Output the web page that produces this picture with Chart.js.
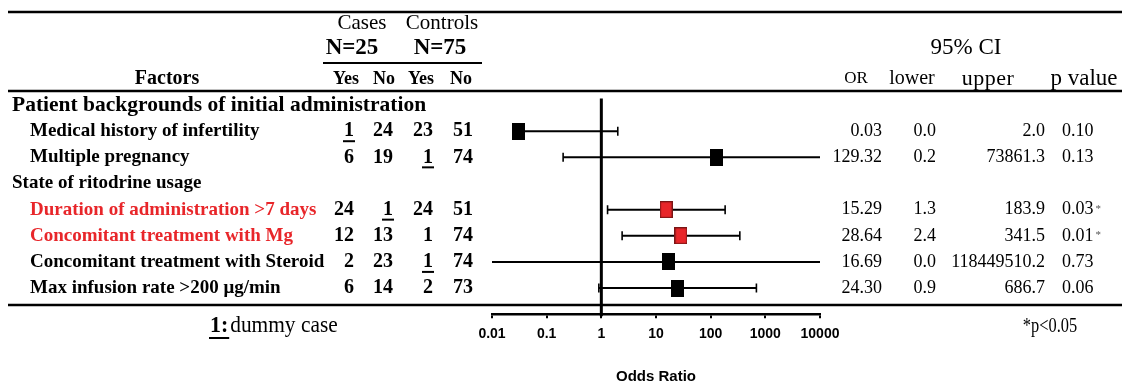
<!DOCTYPE html>
<html>
<head>
<meta charset="utf-8">
<script src="https://cdn.jsdelivr.net/npm/chart.js@4"></script>
<style>
  html, body { margin: 0; padding: 0; background: #fff; overflow: hidden; }
</style>
</head>
<body>
<canvas id="mycanvas" width="1122" height="400"></canvas>
<script>
var groups = ['Patient backgrounds of initial administration', 'State of ritodrine usage'];
var factors = [
    'Medical history of infertility',
    'Multiple pregnancy',
    'Duration of administration >7 days',
    'Concomitant treatment with Mg',
    'Concomitant treatment with Steroid',
    'Max infusion rate >200 \u03bcg/min'
];
var factorGroup = [0, 0, 1, 1, 1, 1];
var significant = [false, false, true, true, false, false];
var casesYes = [1, 6, 24, 12, 2, 6];
var casesNo = [24, 19, 1, 13, 23, 14];
var controlsYes = [23, 1, 24, 1, 1, 2];
var controlsNo = [51, 74, 51, 74, 74, 73];
// underlined dummy cells: [factor, column]
var dummyCells = [[0, 0], [1, 2], [2, 1], [4, 2]];
var oddsRatio = [0.03, 129.32, 15.29, 28.64, 16.69, 24.30];
var ciLower = [0.0, 0.2, 1.3, 2.4, 0.0, 0.9];
var ciUpper = [2.0, 73861.3, 183.9, 341.5, 118449510.2, 686.7];
var pValue = [0.10, 0.13, 0.03, 0.01, 0.73, 0.06];
var leftArm = [false, true, true, true, true, true];
var xTicks = [0.01, 0.1, 1, 10, 100, 1000, 10000];

var xMin = xTicks[0], xMax = xTicks[xTicks.length - 1];

// rows: group header, then its factors
var rowOf = [], groupRow = [], nRows = 0;
groups.forEach(function (g, gi) {
    groupRow.push(nRows++);
    factors.forEach(function (f, i) {
        if (factorGroup[i] === gi) rowOf[i] = nRows++;
    });
});

function box(fill, stroke) {
    var c = document.createElement('canvas');
    c.width = 13; c.height = 17;
    var x = c.getContext('2d');
    x.fillStyle = fill;
    x.fillRect(0, 0, 13, 17);
    x.strokeStyle = stroke;
    x.lineWidth = 1.2;
    x.strokeRect(0.6, 0.6, 11.8, 15.8);
    return c;
}
var blackBox = box('#000', '#000');
var redBox = box('#e8262a', '#7a1515');

var datasets = [];
datasets.push({
    type: 'scatter',
    data: factors.map(function (f, i) { return { x: oddsRatio[i], y: rowOf[i] }; }),
    pointStyle: significant.map(function (s) { return s ? redBox : blackBox; }),
    pointRadius: 8
});
var caps = [];
factors.forEach(function (f, i) {
    if (ciLower[i] >= xMin && leftArm[i]) caps.push({ x: ciLower[i], y: rowOf[i] });
    if (ciUpper[i] <= xMax) caps.push({ x: ciUpper[i], y: rowOf[i] });
});
datasets.push({
    type: 'scatter',
    data: caps,
    pointStyle: 'line',
    rotation: 90,
    pointRadius: 4.5,
    borderColor: '#000',
    pointBorderWidth: 1.6
});
factors.forEach(function (f, i) {
    var lo = leftArm[i] ? Math.max(ciLower[i], xMin) : oddsRatio[i];
    var hi = Math.min(ciUpper[i], xMax);
    datasets.push({
        type: 'line',
        data: [{ x: lo, y: rowOf[i] }, { x: hi, y: rowOf[i] }],
        borderColor: '#000',
        borderWidth: 2,
        pointRadius: 0
    });
});
datasets.push({
    type: 'line',
    data: [{ x: 1, y: -0.25 }, { x: 1, y: nRows + 0.08 }],
    borderColor: '#000',
    borderWidth: 3,
    pointRadius: 0,
    clip: false
});

function txt(ctx, s, x, y, font, align, color, sx, spacing) {
    sx = sx || 1;
    ctx.save();
    ctx.font = font;
    ctx.letterSpacing = spacing || '0px';
    ctx.textAlign = align || 'left';
    ctx.fillStyle = color || '#000';
    ctx.translate(x, y);
    ctx.scale(sx, 1);
    ctx.fillText(s, 0, 0);
    var w = ctx.measureText(s).width * sx;
    ctx.restore();
    return w;
}
function hline(ctx, x1, x2, y, w) {
    ctx.beginPath();
    ctx.lineWidth = w;
    ctx.strokeStyle = '#000';
    ctx.moveTo(x1, y);
    ctx.lineTo(x2, y);
    ctx.stroke();
}

var SERIF = '"Liberation Serif", "Times New Roman", serif';
var SANS = '"Liberation Sans", Arial, sans-serif';
var tablePlugin = {
    id: 'table',
    beforeDraw: function (chart) {
        var ctx = chart.ctx;
        ctx.save();
        ctx.fillStyle = '#fff';
        ctx.fillRect(0, 0, chart.width, chart.height);
        ctx.restore();
    },
    afterDraw: function (chart) {
        var ctx = chart.ctx, y = chart.scales.y;
        ctx.save();
        ctx.textBaseline = 'middle';

        hline(ctx, 8, 1122, 12, 2.5);
        hline(ctx, 8, 1122, 91, 2.5);
        hline(ctx, 8, 1122, 305, 2.5);
        hline(ctx, 323, 482, 63, 2);

        txt(ctx, 'Cases', 362, 23, '21px ' + SERIF, 'center');
        txt(ctx, 'Controls', 442, 23, '21px ' + SERIF, 'center');
        txt(ctx, 'N=25', 352, 48, 'bold 23px ' + SERIF, 'center');
        txt(ctx, 'N=75', 440, 48, 'bold 23px ' + SERIF, 'center');
        txt(ctx, 'Factors', 167, 79, 'bold 20px ' + SERIF, 'center');
        ['Yes', 'No', 'Yes', 'No'].forEach(function (h, k) {
            txt(ctx, h, [346, 384, 421, 461][k], 79, 'bold 18px ' + SERIF, 'center');
        });
        txt(ctx, '95% CI', 966, 48, '23px ' + SERIF, 'center');
        txt(ctx, 'OR', 856, 79, '17px ' + SERIF, 'center');
        txt(ctx, 'lower', 912, 79, '20px ' + SERIF, 'center');
        txt(ctx, 'upper', 988, 79, '22px ' + SERIF, 'center', null, 1, '0.5px');
        txt(ctx, 'p value', 1084, 79, '23px ' + SERIF, 'center');

        var groupFont = ['bold 21.5px ', 'bold 19px '];
        groups.forEach(function (g, gi) {
            txt(ctx, g, 12, y.getPixelForValue(groupRow[gi]), groupFont[gi] + SERIF);
        });

        var cols = [casesYes, casesNo, controlsYes, controlsNo];
        var colRight = [354, 393, 433, 473];
        factors.forEach(function (f, i) {
            var py = y.getPixelForValue(rowOf[i]);
            txt(ctx, f, 30, py, 'bold 19px ' + SERIF, 'left', significant[i] ? '#e8262a' : '#000');
            cols.forEach(function (col, k) {
                var w = txt(ctx, String(col[i]), colRight[k], py, 'bold 20px ' + SERIF, 'right');
                dummyCells.forEach(function (d) {
                    if (d[0] === i && d[1] === k) hline(ctx, colRight[k] - w - 1, colRight[k] + 1, py + 10, 2);
                });
            });
            txt(ctx, oddsRatio[i].toFixed(2), 882, py, '18px ' + SERIF, 'right');
            txt(ctx, ciLower[i].toFixed(1), 936, py, '18px ' + SERIF, 'right');
            txt(ctx, ciUpper[i].toFixed(1), 1045, py, '18px ' + SERIF, 'right');
            var pw = txt(ctx, pValue[i].toFixed(2), 1062, py, '18px ' + SERIF, 'left');
            if (pValue[i] < 0.05) txt(ctx, '*', 1062 + pw + 2, py - 1, '11px ' + SERIF, 'left', '#555');
        });

        var w1 = txt(ctx, '1:', 210, 326, 'bold 23px ' + SERIF, 'left', '#000', 0.95);
        hline(ctx, 209, 211 + w1, 338, 2);
        txt(ctx, 'dummy case', 212 + w1, 326, '23px ' + SERIF, 'left', '#000', 0.93);
        txt(ctx, '*p<0.05', 1050, 326, '21px ' + SERIF, 'center', '#000', 0.78);
        ctx.restore();
    }
};

var ctx = document.getElementById('mycanvas');
var forest = new Chart(ctx, {
    type: 'scatter',
    data: { datasets: datasets },
    plugins: [tablePlugin],
    options: {
        responsive: false,
        animation: false,
        layout: { padding: { left: 492, right: 302, top: 92, bottom: 14 } },
        plugins: { legend: { display: false }, tooltip: { enabled: false } },
        scales: {
            x: {
                type: 'logarithmic',
                position: 'bottom',
                min: xMin,
                max: xMax,
                afterBuildTicks: function (scale) {
                    scale.ticks = xTicks.map(function (v) { return { value: v }; });
                },
                ticks: {
                    autoSkip: false,
                    maxRotation: 0,
                    padding: 8,
                    color: '#000',
                    font: { family: SANS, size: 14, weight: 'bold' },
                    callback: function (v) { return String(v); }
                },
                grid: { drawOnChartArea: false, drawTicks: true, tickLength: 4, color: '#000', lineWidth: 2 },
                border: { display: true, color: '#000', width: 2.5 },
                title: {
                    display: true,
                    text: 'Odds Ratio',
                    color: '#000',
                    padding: { top: 17, bottom: 0 },
                    font: { family: SANS, size: 15, weight: 'bold' }
                }
            },
            y: {
                type: 'linear',
                reverse: true,
                min: -0.5,
                max: nRows,
                display: false
            }
        }
    }
});
</script>
</body>
</html>
